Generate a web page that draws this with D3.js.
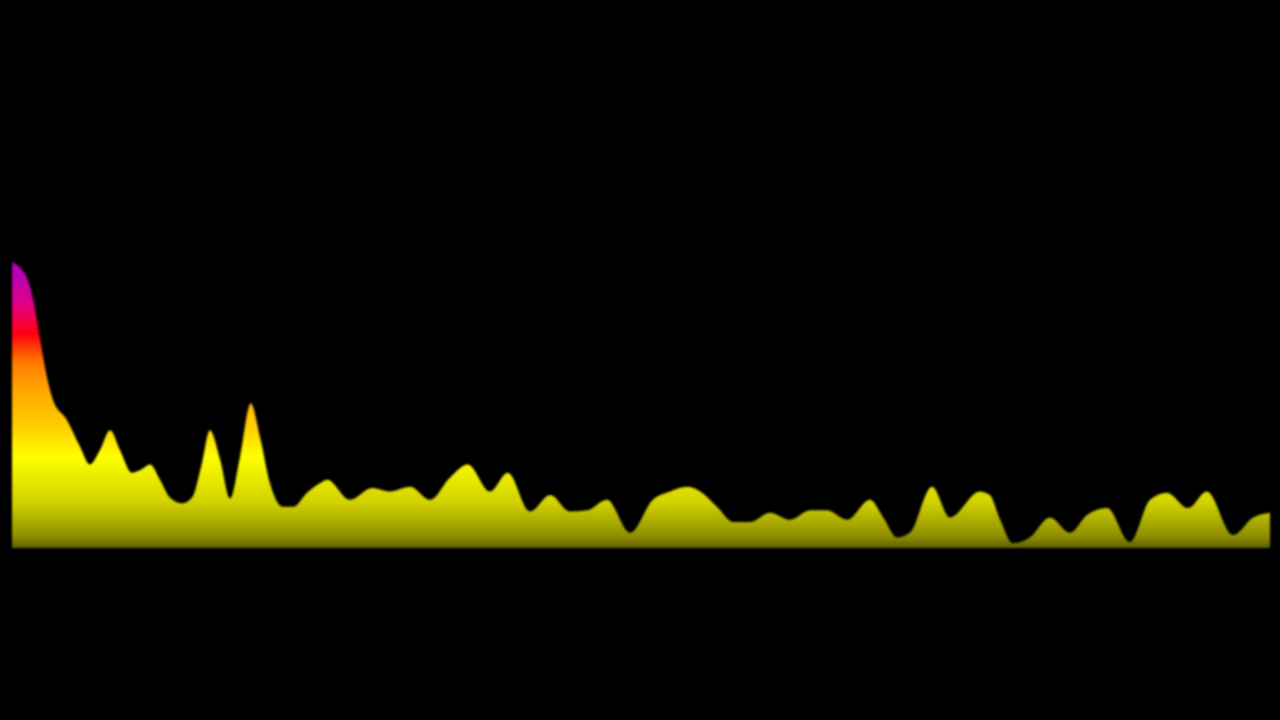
<!DOCTYPE html>
<html>
<head>
<meta charset="utf-8">
<script src="https://cdn.jsdelivr.net/npm/d3@7"></script>
<style>
html,body{margin:0;padding:0;background:#000;}
svg{display:block;}
</style>
</head>
<body>
<svg id="chart" width="1280" height="720"></svg>
<script>
// frequency bins (0..255) and byte magnitudes (0..255)
const bins = [0,3,4.3,5.7,7.1,8.3,11.1,13.8,15.8,17.8,19.9,21.9,24.3,25.9,28,30,32,34.5,36.5,38.5,40.1,42.2,44.2,46.2,48.4,50.3,52.3,54.9,57,59.8,62.4,63.9,68.5,73,76.6,80.7,84.7,88.8,92.4,96.9,100.5,105,109.1,113.1,116.6,120.6,125.3,129.9,133.4,136.8,139.5,142.9,146.2,149.6,153.6,157.7,161.8,165.2,169.3,173.9,176.6,179.4,182,186.5,190.1,196.2,198.2,200.3,202.9,206.3,210.4,214.5,217.9,222,226.6,230.7,234.1,238.4,242.2,247.5,251.6,255];
const magnitudes = [243,230,211,177,145,126,109,86,71,83,100,83,64,66,71,58,43,38,43,72,100,75,42,77,123,94,55,35,35,47,55,58,41,51,48,52,41,60,71,48,64,31,45,31,32,41,13,41,48,52,48,35,22,22,30,24,32,32,24,41,26,9,13,52,26,48,45,24,4,9,26,13,28,34,5,41,47,34,48,11,26,30];

const gradientStops = [
  {offset: 0.00, color: "#5e5e00"},
  {offset: 0.04, color: "#8e8e00"},
  {offset: 0.16, color: "#d2d200"},
  {offset: 0.32, color: "#ffff00"},
  {offset: 0.42, color: "#ffd000"},
  {offset: 0.54, color: "#ffac00"},
  {offset: 0.65, color: "#ff7a00"},
  {offset: 0.75, color: "#ff0010"},
  {offset: 0.86, color: "#e0008c"},
  {offset: 1.00, color: "#a800c8"}
];

const data = bins.map((b, i) => ({bin: b, mag: magnitudes[i]}));

const svg = d3.select("#chart");
const x = d3.scaleLinear().domain([0, 255]).range([12, 1270]);
const y = d3.scaleLinear().domain([0, 255]).range([548, 248]);

const defs = svg.append("defs");
const grad = defs.append("linearGradient")
  .attr("id", "spec")
  .attr("gradientUnits", "userSpaceOnUse")
  .attr("x1", 0).attr("x2", 0)
  .attr("y1", y(0)).attr("y2", y(243));
grad.selectAll("stop").data(gradientStops).join("stop")
  .attr("offset", d => d.offset)
  .attr("stop-color", d => d.color);

defs.append("filter").attr("id", "soft")
  .append("feGaussianBlur").attr("stdDeviation", 0.8);

const area = d3.area()
  .x(d => x(d.bin))
  .y0(y(0))
  .y1(d => y(d.mag))
  .curve(d3.curveMonotoneX);

svg.append("path")
  .datum(data)
  .attr("d", area)
  .attr("fill", "url(#spec)")
  .attr("filter", "url(#soft)");
</script>
</body>
</html>
